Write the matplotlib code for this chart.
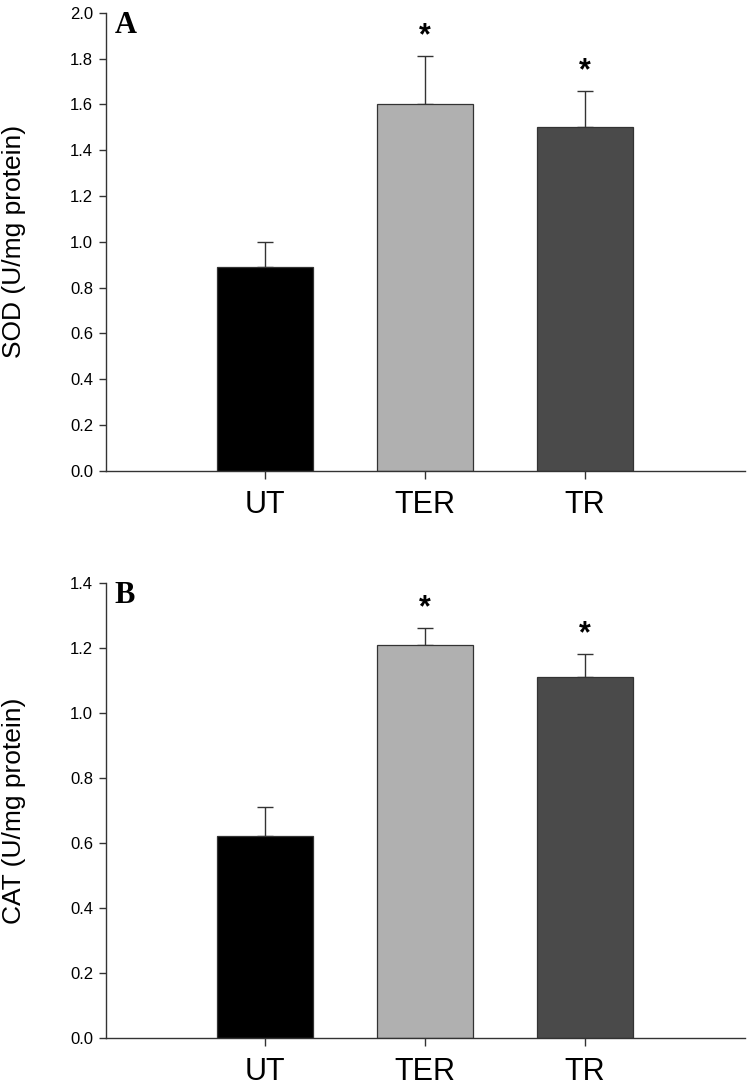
import numpy as np
import matplotlib.pyplot as plt

plt.rcParams['font.family'] = ['Liberation Sans', 'DejaVu Sans']

# data
groups = ['UT', 'TER', 'TR']
sod = [0.89, 1.60, 1.50]
sod_err = [0.11, 0.21, 0.16]
cat = [0.62, 1.21, 1.11]
cat_err = [0.09, 0.05, 0.07]
colors = ['#000000', '#b0b0b0', '#4a4a4a']

fig = plt.figure(figsize=(7.5, 10.88), dpi=100)
axA = fig.add_axes([0.1409, 0.5674, 0.8524, 0.4207])
axB = fig.add_axes([0.1409, 0.0462, 0.8524, 0.4180])

panels = [
    (axA, sod, sod_err, 'SOD (U/mg protein)', 'A', 2.0, 0.2),
    (axB, cat, cat_err, 'CAT (U/mg protein)', 'B', 1.4, 0.2),
]

x = np.arange(len(groups))
for ax, vals, errs, ylab, letter, ymax, step in panels:
    ax.bar(x, vals, width=0.6, color=colors, edgecolor='#333333', linewidth=0.9, zorder=2)
    ax.errorbar(x, vals, yerr=[np.zeros(len(vals)), errs], fmt='none',
                ecolor='#333333', elinewidth=1.0, capsize=6, capthick=1.0, zorder=1)
    # significance marks
    for xi, v, e in zip(x, vals, errs):
        if xi > 0:
            ax.annotate('*', xy=(xi, v + e), xytext=(0, 20), textcoords='offset pixels',
                        ha='center', va='center', fontsize=22, fontweight='bold')
    ax.set_xlim(-0.995, 3.0)
    ax.set_ylim(0, ymax)
    ticks = np.arange(0, ymax + 1e-9, step)
    ax.set_yticks(ticks)
    ax.set_yticklabels([f'{t:.1f}' for t in ticks])
    ax.set_xticks(x)
    ax.set_xticklabels(groups, fontsize=22)
    ax.tick_params(axis='y', labelsize=12, length=5, width=1.0, color='#333333', pad=4)
    ax.tick_params(axis='x', length=6, width=1.0, color='#333333', pad=8)
    for s in ['top', 'right']:
        ax.spines[s].set_visible(False)
    for s in ['left', 'bottom']:
        ax.spines[s].set_color('#333333')
        ax.spines[s].set_linewidth(1.0)
    ax.set_ylabel(ylab, fontsize=19)
    ax.yaxis.set_label_coords(-0.124, 0.5)
    ax.annotate(letter, xy=(0, 1), xycoords='axes fraction', xytext=(9, -20),
                textcoords='offset pixels', ha='left', va='baseline',
                fontsize=22, fontweight='bold', family=['Liberation Serif', 'DejaVu Serif'])

fig.savefig('out.png', dpi=100)
